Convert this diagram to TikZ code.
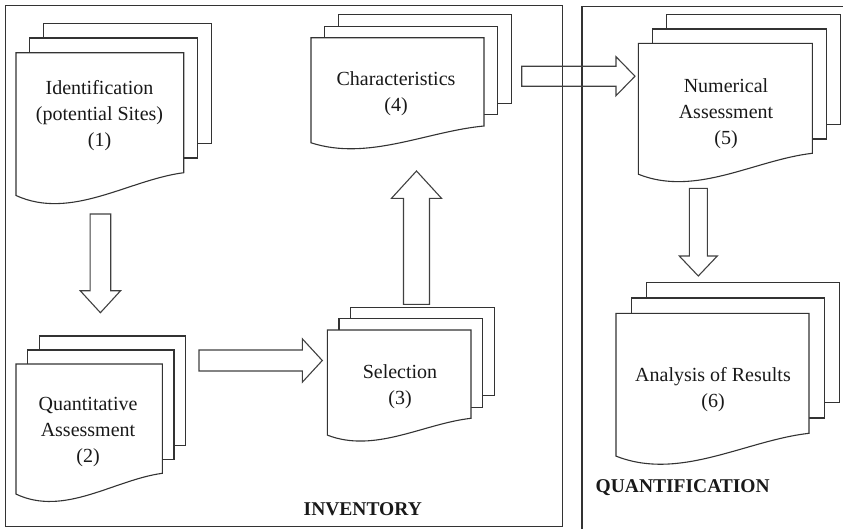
\documentclass[tikz,border=0pt]{standalone}
\usepackage{fontspec}
\setmainfont{Liberation Serif}
\begin{document}
\begin{tikzpicture}[x=1pt,y=-1pt,
  sheet/.style={draw=black!80,line width=1.1pt,fill=white,line join=miter},
  frame/.style={draw=black!80,line width=1.3pt},
  barrow/.style={draw=black!75,line width=1.1pt,line join=miter},
  doctext/.style={align=center,font=\fontsize{20}{26}\selectfont,text=black!90,inner sep=0pt},
  grouplabel/.style={font=\fontsize{19.5}{22}\selectfont\bfseries,text=black!90,inner sep=0pt}]
\useasboundingbox (0,0) rectangle (843,528);
\clip (0,0) rectangle (843,528);
\newcommand\docstack[6]{%
  \draw[sheet] ({#1+2*#5},{#2+2*#6}) rectangle ({#3+2*#5},{#4+2*#6});
  \draw[sheet] ({#1+#5},{#2+#6}) rectangle ({#3+#5},{#4+#6});
  \draw[sheet] (#1,#2) -- (#3,#2) -- (#3,#4)
    .. controls ({#1+0.67*(#3-#1)},{#4+0.06*(#4-#2)}) and ({#1+0.33*(#3-#1)},{#4+0.4*(#4-#2)}) ..
    (#1,{#4+0.19*(#4-#2)}) -- cycle;}
% frames
\draw[frame] (5.5,5.5) rectangle (562.7,526.7);
\draw[frame] (582,6.7) rectangle (860,545);
% document stacks
\docstack{16}{52.7}{183.7}{172.7}{13.7}{-14.7}
\docstack{16}{364}{162.3}{473.3}{11.7}{-14}
\docstack{327.3}{330}{471}{418.3}{11.7}{-11.2}
\docstack{311}{37.7}{484}{126}{13.6}{-11.4}
\docstack{638.3}{43.3}{812.3}{153.3}{14}{-14.3}
\docstack{616}{313.3}{809}{433.3}{15.3}{-15.3}
% texts
\node[doctext] (n1) at (99.5,115.8) {Identification\\(potential Sites)\\(1)};
\node[doctext] (n2) at (88,432) {Quantitative\\Assessment\\(2)};
\node[doctext] (n3) at (400,386.5) {Selection\\(3)};
\node[doctext] (n4) at (396,93.5) {Characteristics\\(4)};
\node[doctext] (n5) at (726,113.5) {Numerical\\Assessment\\(5)};
\node[doctext] (n6) at (713,389.5) {Analysis of Results\\(6)};
\node[grouplabel] (inv) at (362.8,509) {INVENTORY};
\node[grouplabel] (quant) at (682.7,487.3) {QUANTIFICATION};
% block arrows
% 1 -> 2 (down)
\draw[barrow] (90.1,214) -- (110.7,214) -- (110.7,290.7) -- (120.6,290.7) -- (100.4,312.7)
  -- (80.2,290.7) -- (90.1,290.7) -- cycle;
% 2 -> 3 (right)
\draw[barrow] (199,350) -- (302.3,350) -- (302.3,338.8) -- (322.3,360.5) -- (302.3,382.2)
  -- (302.3,371) -- (199,371) -- cycle;
% 3 -> 4 (up)
\draw[barrow] (403.5,304.3) -- (403.5,198.3) -- (391.5,198.3) -- (416.5,171) -- (441.5,198.3)
  -- (429.5,198.3) -- (429.5,304.3) -- cycle;
% 4 -> 5 (right)
\draw[barrow] (521.7,66.2) -- (616,66.2) -- (616,56.7) -- (635,76.2) -- (616,95.7)
  -- (616,86.2) -- (521.7,86.2) -- cycle;
% 5 -> 6 (down)
\draw[barrow] (689.3,188.3) -- (707.3,188.3) -- (707.3,256) -- (717.3,256) -- (698.3,276)
  -- (679.3,256) -- (689.3,256) -- cycle;
\end{tikzpicture}
\end{document}
